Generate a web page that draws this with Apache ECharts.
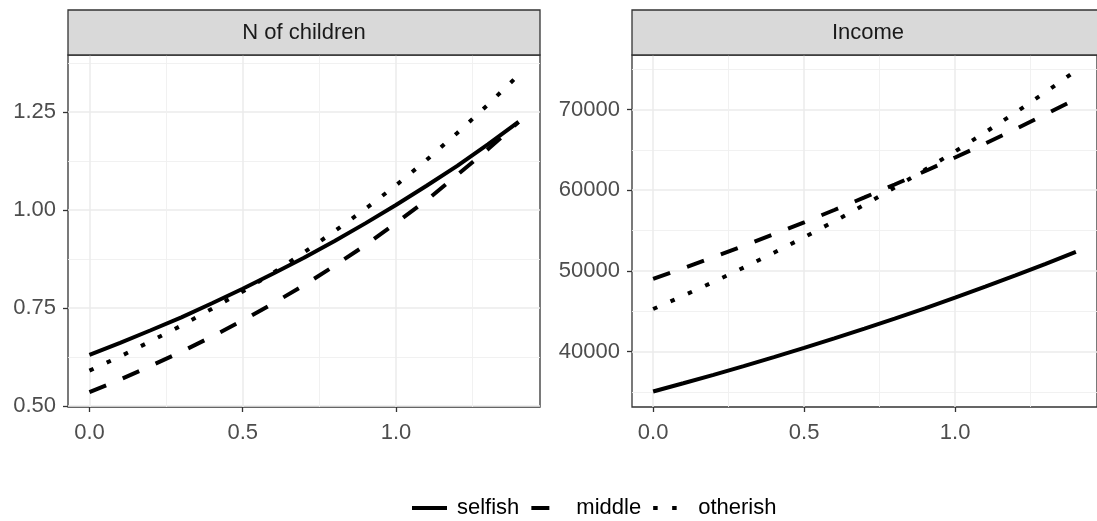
<!DOCTYPE html>
<html>
<head>
<meta charset="utf-8">
<script src="https://cdn.jsdelivr.net/npm/echarts@6/dist/echarts.min.js"></script>
<style>
  html, body { margin: 0; padding: 0; background: #fff; }
  #chart { width: 1097px; height: 521px; }
</style>
</head>
<body>
<div id="chart"></div>
<script>
// x values (same for both panels)
var xs = [0, 0.1, 0.2, 0.3, 0.4, 0.5, 0.6, 0.7, 0.8, 0.9, 1.0, 1.1, 1.2, 1.3, 1.4];

// N of children
var childSelfish  = [0.630, 0.661, 0.693, 0.726, 0.762, 0.799, 0.838, 0.878, 0.921, 0.966, 1.013, 1.062, 1.113, 1.168, 1.225];
var childMiddle   = [0.535, 0.567, 0.602, 0.638, 0.677, 0.718, 0.762, 0.808, 0.858, 0.910, 0.967, 1.025, 1.090, 1.155, 1.225];
var childOtherish = [0.590, 0.626, 0.665, 0.705, 0.748, 0.792, 0.840, 0.892, 0.946, 1.003, 1.063, 1.128, 1.197, 1.269, 1.345];

// Income
var incomeSelfish  = [35050, 36070, 37120, 38200, 39310, 40450, 41630, 42840, 44080, 45360, 46680, 48040, 49430, 50870, 52350];
var incomeMiddle   = [49000, 50330, 51700, 53100, 54540, 56020, 57540, 59100, 60700, 62350, 64050, 65780, 67570, 69400, 71300];
var incomeOtherish = [45270, 46920, 48630, 50410, 52250, 54160, 56140, 58190, 60320, 62520, 64800, 67170, 69620, 72160, 74800];

// ticks
var xTicks = [0, 0.5, 1.0];
var xMinor = [0.25, 0.75, 1.25];
var childTicks = [0.5, 0.75, 1.0, 1.25];
var childMinor = [0.625, 0.875, 1.125, 1.375];
var incomeTicks = [40000, 50000, 60000, 70000];
var incomeMinor = [35000, 45000, 55000, 65000, 75000];

var panelTitles = ['N of children', 'Income'];
var groupNames = ['selfish', 'middle', 'otherish'];

var FONT = '"Liberation Sans", Arial, sans-serif';
var dashes = ['solid', [18, 18], [4.5, 14.5]];

var chart = echarts.init(document.getElementById('chart'));

var grids = [
  { left: 68, top: 55, width: 472, height: 352 },
  { left: 632, top: 55, width: 471, height: 352 }
];
var yRanges = [[0.497, 1.396], [33130, 76750]];
var yTicks = [childTicks, incomeTicks];
var yMinor = [childMinor, incomeMinor];
var yFmt = [function (v) { return v.toFixed(2); }, function (v) { return String(Math.round(v)); }];
var panelData = [
  [childSelfish, childMiddle, childOtherish],
  [incomeSelfish, incomeMiddle, incomeOtherish]
];

var xAxes = [], yAxes = [], series = [], graphics = [];

for (var g = 0; g < 2; g++) {
  // major x axis
  xAxes.push({
    type: 'value', gridIndex: g, min: -0.07, max: 1.47,
    axisLine: { show: false, onZero: false },
    axisTick: { show: true, customValues: xTicks, length: 5, lineStyle: { color: '#333333', width: 1.3 } },
    axisLabel: { customValues: xTicks, formatter: function (v) { return v.toFixed(1); },
                 color: '#4D4D4D', fontSize: 22, fontFamily: FONT, margin: 15 },
    splitLine: { show: true, lineStyle: { color: '#EBEBEB', width: 1.5 } }
  });
  // minor x axis (grid only)
  xAxes.push({
    type: 'value', gridIndex: g, min: -0.07, max: 1.47,
    axisLine: { show: false, onZero: false },
    axisTick: { show: false, customValues: xMinor },
    axisLabel: { show: false, customValues: xMinor },
    splitLine: { show: true, lineStyle: { color: '#EFEFEF', width: 0.9 } }
  });
  yAxes.push({
    type: 'value', gridIndex: g, min: yRanges[g][0], max: yRanges[g][1],
    axisLine: { show: false, onZero: false },
    axisTick: { show: true, customValues: yTicks[g], length: 5, lineStyle: { color: '#333333', width: 1.3 } },
    axisLabel: { customValues: yTicks[g], formatter: yFmt[g],
                 color: '#4D4D4D', fontSize: 22, fontFamily: FONT, margin: 12 },
    splitLine: { show: true, lineStyle: { color: '#EBEBEB', width: 1.5 } }
  });
  yAxes.push({
    type: 'value', gridIndex: g, min: yRanges[g][0], max: yRanges[g][1],
    axisLine: { show: false, onZero: false },
    axisTick: { show: false, customValues: yMinor[g] },
    axisLabel: { show: false, customValues: yMinor[g] },
    splitLine: { show: true, lineStyle: { color: '#EFEFEF', width: 0.9 } }
  });

  for (var s = 0; s < 3; s++) {
    var pts = [];
    for (var i = 0; i < xs.length; i++) pts.push([xs[i], panelData[g][s][i]]);
    series.push({
      name: groupNames[s],
      type: 'line',
      xAxisIndex: g * 2,
      yAxisIndex: g * 2,
      data: pts,
      symbol: 'none',
      smooth: false,
      z: 5,
      lineStyle: { color: '#000', width: 4, type: dashes[s], cap: 'butt' },
      emphasis: { disabled: true }
    });
  }

  // facet strip
  graphics.push({
    type: 'rect', z: 10,
    shape: { x: grids[g].left, y: 10, width: grids[g].width, height: 45 },
    style: { fill: '#D9D9D9', stroke: '#333333', lineWidth: 1.3 }
  });
  graphics.push({
    type: 'text', z: 11,
    x: g === 0 ? grids[g].left + grids[g].width / 2 : 868, y: 33,
    style: { text: panelTitles[g], fill: '#1A1A1A', font: '22px ' + FONT, align: 'center', verticalAlign: 'middle' }
  });
}

chart.setOption({
  animation: false,
  backgroundColor: '#fff',
  grid: grids.map(function (gr) {
    return { left: gr.left, top: gr.top, width: gr.width, height: gr.height,
             show: true, backgroundColor: '#fff', borderColor: '#333333', borderWidth: 1.3 };
  }),
  xAxis: xAxes,
  yAxis: yAxes,
  legend: {
    data: groupNames,
    left: 405, top: 492,
    itemWidth: 35, itemHeight: 14, itemGap: 10,
    itemStyle: { opacity: 0 },
    lineStyle: { width: 4, cap: 'butt' },
    textStyle: { fontSize: 22, fontFamily: FONT, color: '#000', padding: [0, 0, 0, 5] },
    selectedMode: false
  },
  graphic: graphics,
  series: series
});
</script>
</body>
</html>
